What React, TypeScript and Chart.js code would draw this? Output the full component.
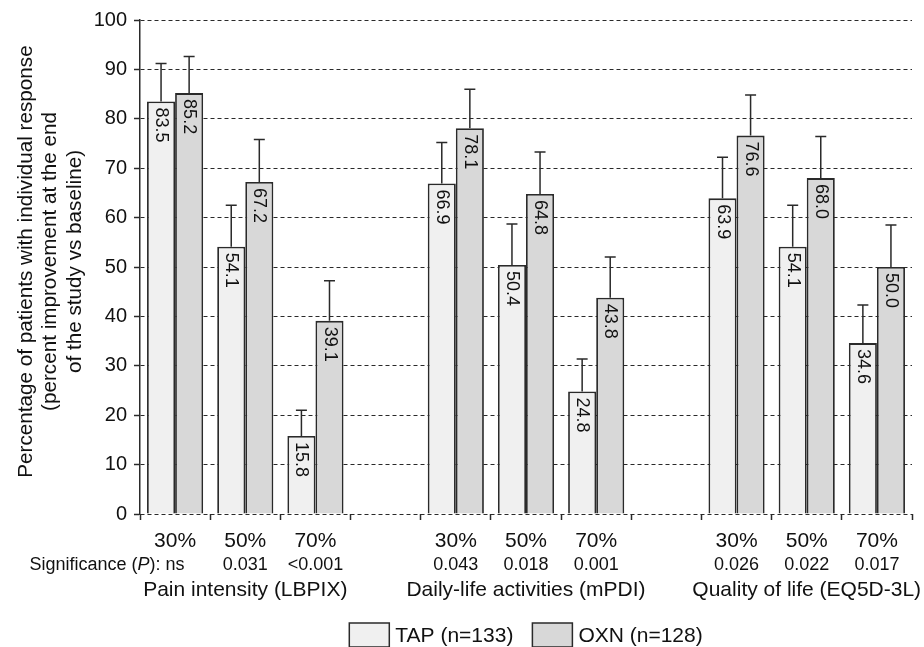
import React, { useEffect, useRef } from "react";
import { Chart, registerables } from "chart.js";

Chart.register(...registerables);

const categories = ["30%", "50%", "70%", "", "30%", "50%", "70%", "", "30%", "50%", "70%"];
const tapValues = [83.5, 54.1, 15.8, null, 66.9, 50.4, 24.8, null, 63.9, 54.1, 34.6];
const oxnValues = [85.2, 67.2, 39.1, null, 78.1, 64.8, 43.8, null, 76.6, 68.0, 50.0];
const tapUpper = [91.2, 62.5, 21.0, null, 75.2, 58.7, 31.4, null, 72.2, 62.5, 42.3];
const oxnUpper = [92.6, 75.8, 47.2, null, 86.0, 73.3, 52.0, null, 84.8, 76.4, 58.5];
const pValues = ["ns", "0.031", "<0.001", "", "0.043", "0.018", "0.001", "", "0.026", "0.022", "0.017"];
const groupLabels = ["Pain intensity (LBPIX)", "Daily-life activities (mPDI)", "Quality of life (EQ5D-3L)"];
const groupCenterIndex = [1, 5, 9];
const seriesNames = ["TAP (n=133)", "OXN (n=128)"];
const seriesColors = ["#f0f0f0", "#d8d8d8"];
const yTitle = [
  "Percentage of patients with individual response",
  "(percent improvement at the end",
  "of the study vs baseline)",
];

const FONT = "'Liberation Sans', Arial, Helvetica, sans-serif";
const INK = "#111111";
const LINE = "#2a2a2a";

const annotatePlugin = {
  id: "annotate",
  afterDatasetsDraw(chart: any) {
    const ctx = chart.ctx;
    const yScale = chart.scales.y;
    const uppers = [tapUpper, oxnUpper];
    const values = [tapValues, oxnValues];
    ctx.save();
    for (let d = 0; d < 2; d++) {
      const meta = chart.getDatasetMeta(d);
      meta.data.forEach((bar: any, i: number) => {
        const v = values[d][i];
        const up = uppers[d][i];
        if (v == null || up == null) return;
        const yTop = yScale.getPixelForValue(up);
        ctx.strokeStyle = LINE;
        ctx.lineWidth = 1.5;
        ctx.setLineDash([]);
        ctx.beginPath();
        ctx.moveTo(bar.x, bar.y);
        ctx.lineTo(bar.x, yTop);
        ctx.moveTo(bar.x - 5.5, yTop);
        ctx.lineTo(bar.x + 5.5, yTop);
        ctx.stroke();
        ctx.save();
        ctx.translate(bar.x, bar.y + 6);
        ctx.rotate(Math.PI / 2);
        ctx.fillStyle = INK;
        ctx.font = `18px ${FONT}`;
        ctx.textAlign = "left";
        ctx.textBaseline = "middle";
        ctx.fillText(v.toFixed(1), 0, 0);
        ctx.restore();
      });
    }
    ctx.restore();
  },
  afterDraw(chart: any) {
    const ctx = chart.ctx;
    const x = chart.scales.x;
    const area = chart.chartArea;
    ctx.save();
    ctx.fillStyle = INK;
    ctx.textBaseline = "middle";
    // y-axis title (three lines)
    ctx.font = `20.7px ${FONT}`;
    ctx.textAlign = "center";
    const titleMid = (area.top + area.bottom) / 2 - 5.5;
    yTitle.forEach((line, k) => {
      ctx.save();
      ctx.translate(26.2 + k * 24.4, titleMid);
      ctx.rotate(-Math.PI / 2);
      ctx.fillText(line, 0, 0);
      ctx.restore();
    });
    // p-values
    ctx.font = `18px ${FONT}`;
    ctx.textAlign = "center";
    const pY = area.bottom + 51;
    pValues.forEach((p, i) => {
      if (!p) return;
      ctx.fillText(p, x.getPixelForValue(i), pY);
    });
    // "Significance (P): " before "ns"
    const nsW = ctx.measureText(pValues[0]).width;
    let rx = x.getPixelForValue(0) - nsW / 2;
    ctx.textAlign = "right";
    ctx.fillText("): ", rx, pY);
    rx -= ctx.measureText("): ").width;
    ctx.font = `italic 18px ${FONT}`;
    ctx.fillText("P", rx, pY);
    rx -= ctx.measureText("P").width;
    ctx.font = `18px ${FONT}`;
    ctx.fillText("Significance (", rx, pY);
    // group labels
    ctx.font = `21px ${FONT}`;
    ctx.textAlign = "center";
    groupLabels.forEach((g, k) => {
      ctx.fillText(g, x.getPixelForValue(groupCenterIndex[k]), area.bottom + 76);
    });
    // legend
    ctx.font = `21px ${FONT}`;
    const boxW = 40, boxH = 24, gapBox = 6, gapItem = 19;
    const w0 = ctx.measureText(seriesNames[0]).width;
    const w1 = ctx.measureText(seriesNames[1]).width;
    const total = boxW + gapBox + w0 + gapItem + boxW + gapBox + w1;
    let lx = (area.left + area.right) / 2 - total / 2;
    const boxTop = area.bottom + 109;
    const textY = area.bottom + 122;
    ctx.textAlign = "left";
    [w0, w1].forEach((w, k) => {
      ctx.fillStyle = seriesColors[k];
      ctx.fillRect(lx, boxTop, boxW, boxH);
      ctx.strokeStyle = LINE;
      ctx.lineWidth = 1.5;
      ctx.strokeRect(lx, boxTop, boxW, boxH);
      ctx.fillStyle = INK;
      ctx.fillText(seriesNames[k], lx + boxW + gapBox, textY);
      lx += boxW + gapBox + w + gapItem;
    });
    ctx.restore();
  },
};

export default function App() {
  const ref = useRef<HTMLCanvasElement | null>(null);
  useEffect(() => {
    if (!ref.current) return;
    const chart = new Chart(ref.current, {
      type: "bar",
      data: {
        labels: categories,
        datasets: [
          {
            label: seriesNames[0],
            data: tapValues as any,
            backgroundColor: seriesColors[0],
            borderColor: LINE,
            borderWidth: 1.8,
            categoryPercentage: 0.8,
            barPercentage: 1.0,
          },
          {
            label: seriesNames[1],
            data: oxnValues as any,
            backgroundColor: seriesColors[1],
            borderColor: LINE,
            borderWidth: 1.8,
            categoryPercentage: 0.8,
            barPercentage: 1.0,
          },
        ],
      },
      options: {
        responsive: false,
        animation: false,
        devicePixelRatio: 1,
        layout: { padding: { top: 20, right: 12, left: 0, bottom: 0 } },
        plugins: { legend: { display: false }, tooltip: { enabled: false } },
        scales: {
          x: {
            offset: true,
            grid: {
              offset: true,
              display: true,
              drawOnChartArea: false,
              drawTicks: true,
              tickLength: 6,
              tickColor: LINE,
              tickWidth: 1.5,
              color: LINE,
            },
            border: { display: false },
            ticks: {
              color: INK,
              font: { family: FONT, size: 21 },
              padding: 9,
              maxRotation: 0,
              autoSkip: false,
            },
            afterFit(scale: any) {
              scale.height = 133;
            },
          },
          y: {
            min: 0,
            max: 100,
            ticks: {
              stepSize: 10,
              color: INK,
              font: { family: FONT, size: 20 },
              padding: 7,
            },
            grid: {
              color: LINE,
              lineWidth: 1,
              tickLength: 6,
              tickColor: LINE,
              tickWidth: 1.5,
              tickBorderDash: [],
            },
            border: { display: true, color: LINE, width: 1.5, dash: [4, 3] },
            title: { display: false },
            afterFit(scale: any) {
              scale.width = 140;
            },
          },
        },
      },
      plugins: [annotatePlugin],
    });
    return () => chart.destroy();
  }, []);
  return (
    <div style={{ position: "absolute", left: 0, top: 0, width: 924, height: 647, background: "#fff" }}>
      <canvas ref={ref} width={924} height={647} style={{ display: "block" }} />
    </div>
  );
}
